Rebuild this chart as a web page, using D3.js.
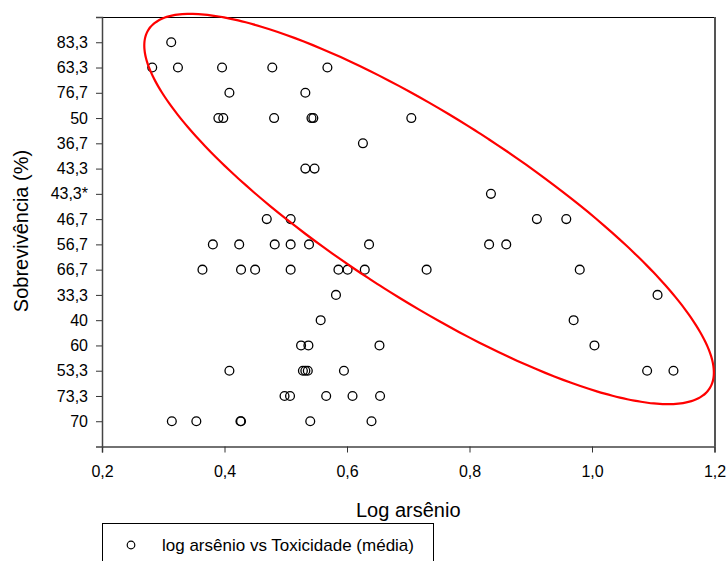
<!DOCTYPE html>
<html>
<head>
<meta charset="utf-8">
<script src="https://cdn.jsdelivr.net/npm/d3@7"></script>
<style>
  body { margin: 0; background: #fff; }
  svg { display: block; }
  text { font-family: "Liberation Sans", Arial, sans-serif; fill: #000; }
</style>
</head>
<body>
<svg id="chart"></svg>
<script>
// ===== data =====

// y categories, top to bottom (Sobrevivência %)
var categories = ["83,3", "63,3", "76,7", "50", "36,7", "43,3", "43,3*", "46,7",
                  "56,7", "66,7", "33,3", "40", "60", "53,3", "73,3", "70"];

// log arsênio values for each category row (same order as categories)
var logArsenio = [
  [0.313],
  [0.282, 0.324, 0.396, 0.478, 0.568],
  [0.408, 0.532],
  [0.390, 0.398, 0.481, 0.542, 0.545, 0.705],
  [0.626],
  [0.532, 0.547],
  [0.835],
  [0.469, 0.508, 0.910, 0.958],
  [0.381, 0.424, 0.482, 0.508, 0.538, 0.636, 0.832, 0.860],
  [0.364, 0.427, 0.450, 0.508, 0.586, 0.601, 0.629, 0.730, 0.980],
  [0.582, 1.107],
  [0.557, 0.970],
  [0.525, 0.537, 0.653, 1.004],
  [0.408, 0.528, 0.532, 0.536, 0.595, 1.090, 1.133],
  [0.498, 0.507, 0.566, 0.609, 0.654],
  [0.314, 0.354, 0.426, 0.427, 0.540, 0.640]
];

var xTicks = [0.2, 0.4, 0.6, 0.8, 1.0, 1.2];

// confidence ellipse centre in data units (x value, row index from bottom)
var ellipseCenter = { x: 0.734, row: 9.4 };

var width = 727, height = 561;
var plot = { left: 102, right: 714.5, top: 17, bottom: 446.5 };

var svg = d3.select("#chart").attr("width", width).attr("height", height);

var x = d3.scaleLinear().domain([0.2, 1.2]).range([plot.left, plot.right]);
var y = d3.scalePoint().domain(categories.slice().reverse())
  .range([plot.bottom, plot.top]).padding(1);
var yRow = d3.scaleLinear().domain([0, categories.length + 1]).range([plot.bottom, plot.top]);

var fmt = function(d) { return d3.format(".1f")(d).replace(".", ","); };

// frame top and right
svg.append("line")
  .attr("x1", plot.left).attr("x2", plot.right + 1)
  .attr("y1", plot.top + 0.5).attr("y2", plot.top + 0.5)
  .attr("stroke", "#000").attr("stroke-width", 1);
svg.append("line")
  .attr("x1", plot.right + 0.5).attr("x2", plot.right + 0.5)
  .attr("y1", plot.top).attr("y2", plot.bottom)
  .attr("stroke", "#555").attr("stroke-width", 2);

// x axis
var xAxis = svg.append("g")
  .attr("transform", "translate(0," + plot.bottom + ")")
  .call(d3.axisBottom(x).tickValues(xTicks).tickFormat(fmt).tickSize(6).tickPadding(13));
xAxis.select(".domain").attr("stroke", "#444").attr("stroke-width", 1.5);
xAxis.selectAll(".tick line").attr("stroke", "#333");
xAxis.selectAll(".tick text").attr("font-size", 16).attr("fill", "#000")
  .attr("font-family", "Liberation Sans, Arial, sans-serif");

// y axis
var yAxis = svg.append("g")
  .attr("transform", "translate(" + plot.left + ",0)")
  .call(d3.axisLeft(y).tickSize(6).tickPadding(8));
yAxis.select(".domain").attr("stroke", "#444").attr("stroke-width", 1.5);
yAxis.selectAll(".tick line").attr("stroke", "#333");
yAxis.selectAll(".tick text").attr("font-size", 16).attr("fill", "#000")
  .attr("font-family", "Liberation Sans, Arial, sans-serif");

// axis titles
svg.append("text")
  .attr("x", (plot.left + plot.right) / 2).attr("y", 517)
  .attr("text-anchor", "middle").attr("font-size", 20)
  .text("Log arsênio");

svg.append("text")
  .attr("transform", "translate(28," + 231 + ") rotate(-90)")
  .attr("text-anchor", "middle").attr("font-size", 20)
  .text("Sobrevivência (%)");

// points
var points = [];
categories.forEach(function(c, i) {
  logArsenio[i].forEach(function(v) { points.push({ cat: c, x: v }); });
});

svg.append("g").selectAll("circle")
  .data(points)
  .join("circle")
  .attr("cx", function(d) { return x(d.x); })
  .attr("cy", function(d) { return y(d.cat); })
  .attr("r", 4.4)
  .attr("fill", "none")
  .attr("stroke", "#000")
  .attr("stroke-width", 1.3);

// red ellipse (rotated, sized in pixels around the scaled centre)
var cx = x(ellipseCenter.x), cy = yRow(ellipseCenter.row);
var semiA = 333, semiB = 91, theta = 32.6 * Math.PI / 180;
var ellPts = d3.range(0, 361, 2).map(function(deg) {
  var t = deg * Math.PI / 180;
  return [
    cx + semiA * Math.cos(theta) * Math.cos(t) - semiB * Math.sin(theta) * Math.sin(t),
    cy + semiA * Math.sin(theta) * Math.cos(t) + semiB * Math.cos(theta) * Math.sin(t)
  ];
});
svg.append("path")
  .attr("d", d3.line().curve(d3.curveCardinalClosed)(ellPts.slice(0, -1)))
  .attr("fill", "none")
  .attr("stroke", "#f00")
  .attr("stroke-width", 2.2);

// legend
var leg = svg.append("g");
leg.append("rect")
  .attr("x", plot.left + 0.5).attr("y", 523.5)
  .attr("width", 331).attr("height", 60)
  .attr("fill", "#fff").attr("stroke", "#000").attr("stroke-width", 1);
leg.append("circle")
  .attr("cx", 131).attr("cy", 545).attr("r", 3.8)
  .attr("fill", "none").attr("stroke", "#000").attr("stroke-width", 1.2);
leg.append("text")
  .attr("x", 162).attr("y", 551).attr("font-size", 17)
  .text("log arsênio vs Toxicidade (média)");
</script>
</body>
</html>
